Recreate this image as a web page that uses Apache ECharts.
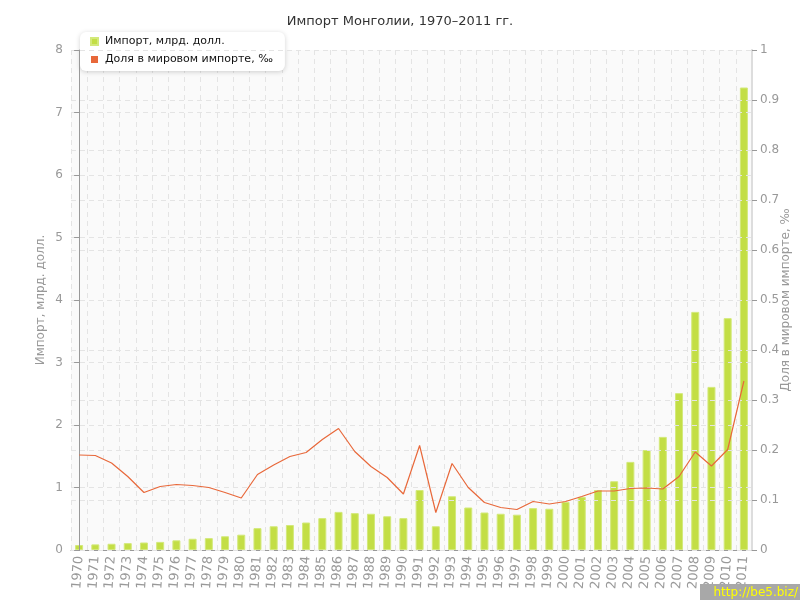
<!DOCTYPE html>
<html><head><meta charset="utf-8">
<script src="https://cdn.jsdelivr.net/npm/echarts@6/dist/echarts.min.js"></script>
<style>html,body{margin:0;padding:0;background:#fff}#c{width:800px;height:600px}</style>
</head><body><div id="c"></div>
<script>
const years = ['1970','1971','1972','1973','1974','1975','1976','1977','1978','1979','1980','1981','1982','1983','1984','1985','1986','1987','1988','1989','1990','1991','1992','1993','1994','1995','1996','1997','1998','1999','2000','2001','2002','2003','2004','2005','2006','2007','2008','2009','2010','2011'];
const importBn = [0.08,0.09,0.1,0.11,0.12,0.13,0.155,0.18,0.19,0.22,0.245,0.35,0.38,0.40,0.44,0.51,0.61,0.59,0.58,0.54,0.51,0.96,0.38,0.86,0.68,0.60,0.58,0.565,0.67,0.66,0.77,0.85,0.96,1.10,1.41,1.60,1.81,2.51,3.81,2.61,3.71,7.4];
const sharePermille = [0.19,0.189,0.174,0.147,0.115,0.127,0.131,0.129,0.125,0.115,0.104,0.151,0.17,0.187,0.195,0.221,0.243,0.197,0.167,0.145,0.112,0.209,0.075,0.173,0.125,0.095,0.085,0.081,0.097,0.092,0.097,0.107,0.118,0.118,0.123,0.124,0.122,0.147,0.196,0.168,0.201,0.338];
const leftTicks = [0,1,2,3,4,5,6,7,8];
const rightTicks = [0,0.1,0.2,0.3,0.4,0.5,0.6,0.7,0.8,0.9,1];

const FONT = 'DejaVu Sans';
const chart = echarts.init(document.getElementById('c'), null, {renderer:'canvas'});
chart.setOption({
  animation:false,
  backgroundColor:'#fff',
  textStyle:{fontFamily:FONT},
  title:{text:'Импорт Монголии, 1970–2011 гг.', left:'center', top:10,
    textStyle:{fontFamily:FONT, fontSize:13, fontWeight:'normal', color:'#333'}},
  legend:{orient:'vertical', left:80, top:32, itemWidth:7, itemHeight:7, itemGap:7,
    backgroundColor:'#fff', borderRadius:6, padding:[4,12,6,10],
    shadowColor:'rgba(0,0,0,0.18)', shadowBlur:5, shadowOffsetY:1,
    textStyle:{fontFamily:FONT, fontSize:11, color:'#111', padding:[0,0,0,2]},
    data:[{name:'Импорт, млрд. долл.', icon:'rect'},{name:'Доля в мировом импорте, ‰', icon:'rect'}]},
  grid:{left:71, right:48, top:50, bottom:50, show:true, backgroundColor:'#fafafa', borderWidth:0,
    containLabel:false, outerBoundsMode:'none'},
  xAxis:[
    {type:'category', data:years, z:4,
     axisLine:{lineStyle:{color:'#999'}},
     axisTick:{alignWithLabel:true, length:5, lineStyle:{color:'#999'}},
     axisLabel:{rotate:86, fontFamily:FONT, fontSize:13, color:'#999', margin:6, interval:0},
     splitLine:{show:false}},
    {type:'value', min:-0.5, max:41.5, interval:1, z:3, show:true,
     axisLine:{show:false}, axisTick:{show:false}, axisLabel:{show:false},
     splitLine:{show:true, lineStyle:{color:'rgba(225,225,225,0.9)', type:[5,4]}}}
  ],
  yAxis:[
    {type:'value', min:0, max:8, interval:1, position:'left', z:6,
     name:'Импорт, млрд. долл.', nameLocation:'middle', nameGap:24, nameRotate:90, nameMoveOverlap:false,
     nameTextStyle:{fontFamily:FONT, fontSize:12, color:'#999'},
     axisLine:{show:true, lineStyle:{color:'#999'}},
     axisTick:{show:true, length:5, lineStyle:{color:'#999'}},
     axisLabel:{fontFamily:FONT, fontSize:12, color:'#999', margin:8},
     splitLine:{show:true, lineStyle:{color:'#e4e4e4', type:[5,4]}}},
    {type:'value', min:0, max:1, interval:0.1, position:'right', z:6,
     name:'Доля в мировом импорте, ‰', nameLocation:'middle', nameGap:28, nameRotate:90, nameMoveOverlap:false,
     nameTextStyle:{fontFamily:FONT, fontSize:12, color:'#999'},
     axisLine:{show:true, lineStyle:{color:'#ddd', width:2}},
     axisTick:{show:true, length:5, lineStyle:{color:'#999'}},
     axisLabel:{fontFamily:FONT, fontSize:12, color:'#999', margin:8},
     splitLine:{show:true, lineStyle:{color:'#e4e4e4', type:[5,4]}}}
  ],
  series:[
    {name:'Импорт, млрд. долл.', type:'bar', xAxisIndex:0, yAxisIndex:0, data:importBn, barWidth:8, z:1,
     itemStyle:{color:'#c3de45', borderColor:'#d3e97a', borderWidth:1}},
    {name:'Доля в мировом импорте, ‰', type:'line', xAxisIndex:0, yAxisIndex:1, data:sharePermille,
     showSymbol:false, symbol:'none', lineStyle:{color:'#e8683a', width:1.2}, itemStyle:{color:'#e8683a'}, z:6}
  ],
  graphic:[
    {type:'rect', right:0, bottom:0, shape:{width:100, height:16}, style:{fill:'#a8a8a8'}, z:100},
    {type:'text', right:2, bottom:1, style:{text:'http://be5.biz/', fill:'#ffff00', font:'12px "DejaVu Sans"'}, z:101}
  ]
});
</script></body></html>
